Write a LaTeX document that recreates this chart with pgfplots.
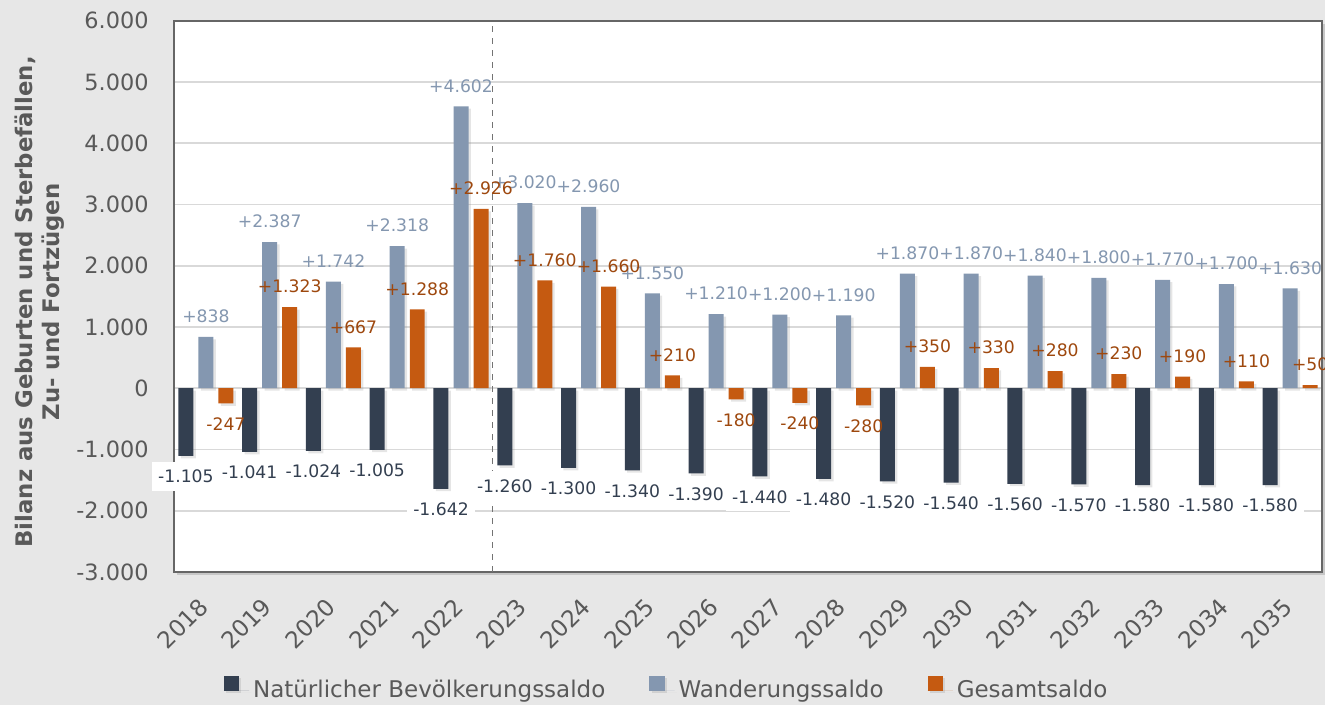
\documentclass[border=0pt]{standalone}
\usepackage{pgfplots}
\pgfplotsset{compat=1.18}
\usepackage{pgfplotstable}
\usepackage{fontspec}
\setmainfont{DejaVu Sans}
\usetikzlibrary{shadows}
\definecolor{bg}{RGB}{231,231,231}
\definecolor{nat}{RGB}{51,63,80}
\definecolor{wan}{RGB}{132,151,176}
\definecolor{ges}{RGB}{197,90,17}
\definecolor{gestext}{RGB}{158,72,14}
\definecolor{txt}{RGB}{89,89,89}
\definecolor{gridc}{RGB}{217,217,217}

\pgfplotstableread{
x nat wan ges
0 -1105 838 -247
1 -1041 2387 1323
2 -1024 1742 667
3 -1005 2318 1288
4 -1642 4602 2926
5 -1260 3020 1760
6 -1300 2960 1660
7 -1340 1550 210
8 -1390 1210 -180
9 -1440 1200 -240
10 -1480 1190 -280
11 -1520 1870 350
12 -1540 1870 330
13 -1560 1840 280
14 -1570 1800 230
15 -1580 1770 190
16 -1580 1700 110
17 -1580 1630 50
}\data

\begin{document}
\begin{tikzpicture}
\fill[bg] (0,0) rectangle (662.5pt,352.5pt);
\useasboundingbox (0,0) rectangle (662.5pt,352.5pt);
\begin{axis}[
  at={(87pt,66.5pt)}, anchor=south west,
  scale only axis, width=574pt, height=275.65pt,
  xmin=-0.5, xmax=17.5, ymin=-3000, ymax=6000,
  clip=false,
  ytick={-3000,-2000,...,6000},
  xtick={0,...,17},
  xticklabels={2018,2019,2020,2021,2022,2023,2024,2025,2026,2027,2028,2029,2030,2031,2032,2033,2034,2035},
  ymajorgrids, grid style={gridc, line width=0.9pt},
  axis line style={black!60, line width=0.9pt},
  axis background/.style={fill=white, drop shadow={shadow xshift=1.5pt, shadow yshift=-1.5pt, opacity=0.3}},
  major tick length=0pt,
  /pgf/number format/1000 sep={.},
  /pgf/number format/assume math mode=true,
  tick label style={font=\fontsize{11.2}{13}\selectfont, text=txt},
  yticklabel style={anchor=east, inner sep=0pt, xshift=-12.5pt},
  xticklabel style={font=\fontsize{11.6}{13}\selectfont, rotate=45, anchor=east, inner sep=0pt, yshift=-10pt, xshift=-11.5pt},
  ylabel={Bilanz aus Geburten und Sterbefällen,\\Zu- und Fortzügen},
  ylabel style={font=\bfseries\fontsize{11.4}{13.5}\selectfont, text=txt, align=center, at={(axis description cs:-0.1167,0.49)}, anchor=center},
  legend style={at={(0.4300,-0.214)}, anchor=center, draw=none, fill=none, legend columns=3, font=\fontsize{11.5}{13}\selectfont, text=txt, /tikz/every even column/.append style={column sep=20pt}},
  ybar, bar width=0.235,
  every axis plot/.append style={legend image code/.code={\fill[drop shadow/.style={}, ##1, draw=none] (0pt,-0.3pt) rectangle (7.6pt,7.3pt); \path (0pt,0pt) -- (12.6pt,0pt);}},
  every node near coord/.append style={font=\fontsize{8.6}{10}\selectfont, inner ysep=4pt, inner xsep=3pt, outer ysep=3pt},
]
\addplot[fill=nat, draw=none, bar shift=-0.314, drop shadow={shadow xshift=1.2pt, shadow yshift=-1.2pt, opacity=0.2},
  nodes near coords={\pgfmathprintnumber{\pgfplotspointmeta}},
  every node near coord/.append style={text=nat, fill=white}]
  table[x=x, y=nat] {\data};
\addlegendentry{Natürlicher Bevölkerungssaldo}
\addplot[fill=wan, draw=none, bar shift=0, drop shadow={shadow xshift=1.2pt, shadow yshift=-1.2pt, opacity=0.2},
  nodes near coords={\pgfmathprintnumber[showpos]{\pgfplotspointmeta}},
  every node near coord/.append style={text=wan}]
  table[x=x, y=wan] {\data};
\addlegendentry{Wanderungssaldo}
\addplot[fill=ges, draw=none, bar shift=0.314, drop shadow={shadow xshift=1.2pt, shadow yshift=-1.2pt, opacity=0.2},
  nodes near coords={\pgfmathprintnumber[showpos]{\pgfplotspointmeta}},
  every node near coord/.append style={text=gestext}]
  table[x=x, y=ges] {\data};
\addlegendentry{Gesamtsaldo}
\draw[dashed, black!55, line width=0.6pt] (axis cs:4.5,-3000) -- (axis cs:4.5,6000);
\end{axis}
\end{tikzpicture}
\end{document}
